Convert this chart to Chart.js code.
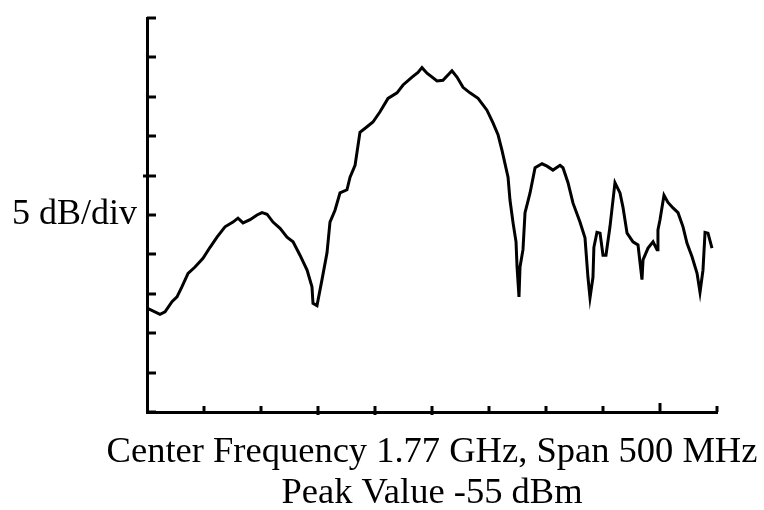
<!DOCTYPE html>
<html>
<head>
<meta charset="utf-8">
<script src="https://cdn.jsdelivr.net/npm/chart.js@4/dist/chart.umd.min.js"></script>
<style>
  html, body { margin: 0; padding: 0; background: #fff; }
  #wrap { width: 764px; height: 510px; }
</style>
</head>
<body>
<div id="wrap"><canvas id="spectrum"></canvas></div>
<script>
// spectrum trace (MHz, dBm)
var freqs = [
    1520.0, 1531.4, 1535.8, 1541.9, 1546.3, 1550.7, 1556.0, 1562.1, 1569.1, 1575.3,
    1581.4, 1588.4, 1595.4, 1599.8, 1604.2, 1610.4, 1616.5, 1620.9, 1625.3, 1630.5,
    1636.7, 1642.8, 1648.1, 1654.2, 1660.4, 1664.7, 1665.6, 1669.1, 1673.5, 1677.9,
    1680.5, 1684.9, 1689.3, 1695.4, 1698.1, 1702.5, 1706.8, 1713.0, 1718.2, 1724.4,
    1731.4, 1739.3, 1744.6, 1752.5, 1757.7, 1761.2, 1765.6, 1774.4, 1779.6, 1787.5,
    1791.9, 1797.2, 1803.3, 1810.4, 1818.2, 1823.5, 1827.9, 1831.4, 1836.7, 1838.4,
    1841.1, 1843.7, 1844.6, 1846.3, 1847.2, 1849.8, 1851.6, 1856.0, 1860.4, 1866.5,
    1870.9, 1876.1, 1882.3, 1884.9, 1889.3, 1893.7, 1899.8, 1904.2, 1906.8, 1908.6,
    1911.2, 1912.0, 1914.7, 1917.4, 1920.0, 1922.6, 1926.1, 1930.5, 1934.9, 1937.5,
    1941.1, 1946.3, 1950.7, 1954.2, 1955.1, 1959.5, 1963.9, 1967.4, 1968.2, 1970.0,
    1973.5, 1977.0, 1981.4, 1985.8, 1990.2, 1993.7, 1998.1, 2002.5, 2005.1, 2007.7,
    2009.5, 2012.1, 2015.6
];
var levels = [
    -86.8, -87.6, -87.3, -86.0, -85.4, -84.1, -82.4, -81.6, -80.5, -79.1,
    -77.8, -76.5, -75.9, -75.4, -76.0, -75.6, -75.0, -74.7, -74.9, -75.9,
    -76.7, -77.8, -78.4, -80.1, -82.0, -84.1, -86.2, -86.5, -83.2, -79.8,
    -75.9, -74.4, -72.2, -71.8, -70.2, -68.7, -64.5, -63.8, -63.2, -61.9,
    -60.2, -59.5, -58.5, -57.5, -56.9, -56.3, -57.0, -58.0, -57.9, -56.7,
    -57.5, -58.8, -59.5, -60.2, -61.7, -63.3, -64.8, -66.8, -70.2, -73.1,
    -76.0, -78.4, -81.6, -85.4, -81.6, -79.4, -74.7, -72.2, -69.0, -68.5,
    -68.8, -69.3, -68.7, -69.0, -70.9, -73.5, -75.9, -77.9, -82.9, -85.5,
    -82.9, -79.1, -77.2, -77.3, -80.1, -80.1, -76.5, -70.9, -72.2, -74.0,
    -77.3, -78.4, -78.8, -83.2, -80.7, -79.2, -78.4, -79.4, -76.9, -75.6,
    -72.5, -73.4, -74.1, -74.7, -76.5, -78.6, -80.3, -82.4, -84.8, -82.0,
    -77.2, -77.3, -79.2
];

// screen settings
var freqMin = 1520, freqMax = 2020, freqDiv = 50;
var levelMin = -100, levelMax = -50, levelDiv = 5;
var divLabel = '5 dB/div';
var divLabelAt = -75;
var captionLines = ['Center Frequency 1.77 GHz, Span 500 MHz', 'Peak Value -55 dBm'];

var serif = 'Liberation Serif';

function $each(arr, fn) {
    for (let i = 0; i < arr.length; i++) fn(i, arr[i]);
}

/**
 * Tick marks pointing into the plot, like the analyser screen
 */
var innerTicks = {
    id: 'innerTicks',
    afterDraw: function (chart) {
        let ctx = chart.ctx,
            xs = chart.scales.x,
            ys = chart.scales.y,
            area = chart.chartArea;

        ctx.save();
        ctx.strokeStyle = '#000';
        ctx.lineWidth = 3;
        ctx.lineCap = 'butt';

        $each(ys.ticks, function (i) {
            let y = Math.round(ys.getPixelForTick(i));
            ctx.beginPath();
            ctx.moveTo(area.left - (i == 6 ? 4 : 0), y);
            ctx.lineTo(area.left + 9, y);
            ctx.stroke();
        });

        $each(xs.ticks, function (i) {
            if (i == 0) return;
            let x = Math.round(xs.getPixelForTick(i));
            let below = (i == 3 || i == 4 || i == 5) ? 3 : 0;
            ctx.beginPath();
            ctx.moveTo(x, area.bottom + below);
            ctx.lineTo(x, area.bottom - (i == 9 ? 9 : 6));
            ctx.stroke();
        });
        ctx.restore();
    }
};

/**
 * Caption under the screen (wider than the plot, so not the axis title)
 */
var caption = {
    id: 'caption',
    afterDraw: function (chart) {
        let ctx = chart.ctx,
            area = chart.chartArea,
            cx = (area.left + area.right) / 2;

        ctx.save();
        ctx.fillStyle = '#000';
        ctx.font = '36.5px "' + serif + '"';
        ctx.textAlign = 'center';
        ctx.textBaseline = 'alphabetic';
        ctx.fillText(captionLines[0], cx, area.bottom + 50);
        ctx.fillText(captionLines[1], cx, area.bottom + 91);
        ctx.restore();
    }
};

var points = freqs.map((f, i) => ({ x: f, y: levels[i] }));

var ctx = document.getElementById('spectrum');
var chart = new Chart(ctx, {
    type: 'line',
    data: {
        datasets: [{
            data: points,
            borderColor: '#000',
            borderWidth: 3,
            pointRadius: 0,
            tension: 0,
            fill: false
        }]
    },
    options: {
        responsive: true,
        maintainAspectRatio: false,
        animation: false,
        devicePixelRatio: 1,
        layout: {
            padding: { left: 2, right: 47, top: 18, bottom: 98 }
        },
        plugins: {
            legend: { display: false },
            tooltip: { enabled: false }
        },
        scales: {
            x: {
                type: 'linear',
                min: freqMin,
                max: freqMax,
                ticks: { display: false, stepSize: freqDiv },
                grid: { display: true, drawOnChartArea: false, drawTicks: false },
                border: { display: true, color: '#000', width: 3 }
            },
            y: {
                type: 'linear',
                min: levelMin,
                max: levelMax,
                ticks: {
                    stepSize: levelDiv,
                    autoSkip: false,
                    color: '#000',
                    padding: 10,
                    font: { family: serif, size: 36, lineHeight: 0.4 },
                    callback: function (v) {
                        return v == divLabelAt ? divLabel : '';
                    }
                },
                grid: { display: true, drawOnChartArea: false, drawTicks: false },
                border: { display: true, color: '#000', width: 3 }
            }
        }
    },
    plugins: [innerTicks, caption]
});
</script>
</body>
</html>
